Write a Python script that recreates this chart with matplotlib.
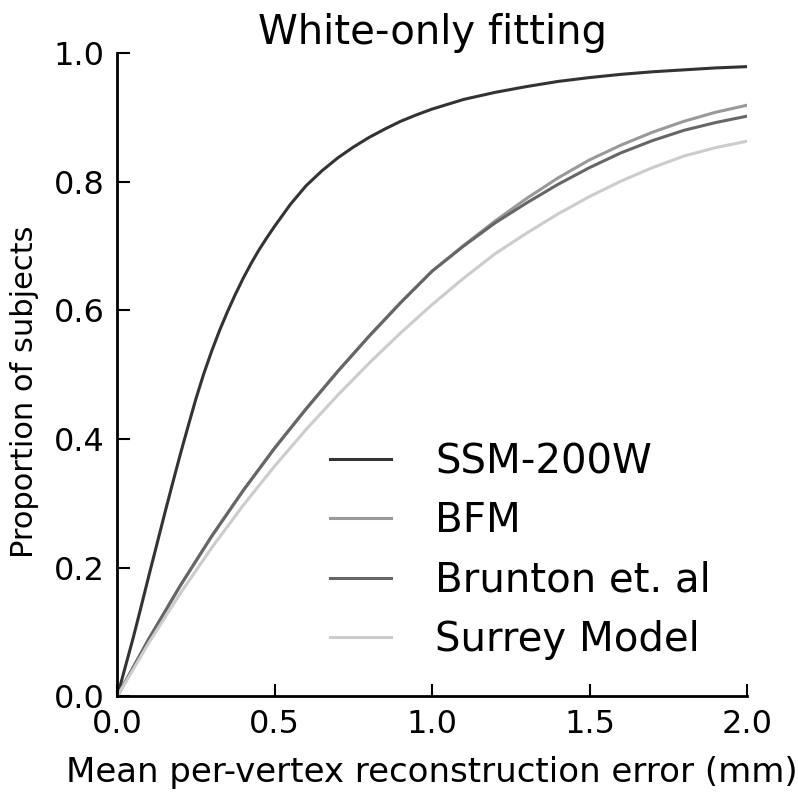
import numpy as np
import matplotlib
matplotlib.use('Agg')
import matplotlib.pyplot as plt

# Values (cumulative error plot).
# SSM-200W rises steeply, so it is read at a finer step.
err_ssm = [0.0, 0.025, 0.05, 0.075, 0.1, 0.125, 0.15, 0.175, 0.2, 0.225, 0.25,
           0.275, 0.3, 0.325, 0.35, 0.375, 0.4, 0.425, 0.45, 0.475, 0.5,
           0.55, 0.6, 0.65, 0.7, 0.75, 0.8, 0.85, 0.9, 0.95, 1.0,
           1.1, 1.2, 1.3, 1.4, 1.5, 1.6, 1.7, 1.8, 1.9, 2.0]
ssm_200w = [0.0, 0.045, 0.09, 0.138, 0.187, 0.235, 0.283, 0.33, 0.376, 0.42, 0.463,
            0.502, 0.537, 0.569, 0.598, 0.625, 0.65, 0.673, 0.694, 0.713, 0.731,
            0.765, 0.794, 0.817, 0.837, 0.854, 0.869, 0.882, 0.894, 0.904, 0.913,
            0.928, 0.939, 0.948, 0.956, 0.962, 0.967, 0.971, 0.974, 0.977, 0.979]

err_mm = [0.0, 0.1, 0.2, 0.3, 0.4, 0.5, 0.6, 0.7, 0.8, 0.9, 1.0,
          1.1, 1.2, 1.3, 1.4, 1.5, 1.6, 1.7, 1.8, 1.9, 2.0]
bfm = [0.0, 0.089, 0.172, 0.249, 0.320, 0.386, 0.447, 0.505, 0.560, 0.612, 0.661,
       0.701, 0.739, 0.774, 0.806, 0.834, 0.857, 0.877, 0.894, 0.908, 0.919]
brunton = [0.0, 0.089, 0.172, 0.249, 0.320, 0.386, 0.447, 0.505, 0.560, 0.612, 0.661,
           0.700, 0.736, 0.767, 0.796, 0.822, 0.845, 0.864, 0.880, 0.892, 0.902]
surrey = [0.0, 0.083, 0.160, 0.231, 0.297, 0.358, 0.415, 0.468, 0.518, 0.565, 0.609,
          0.650, 0.688, 0.720, 0.750, 0.777, 0.801, 0.822, 0.840, 0.853, 0.863]

series = [('SSM-200W', err_ssm, ssm_200w, '#333333'),
          ('BFM', err_mm, bfm, '#999999'),
          ('Brunton et. al', err_mm, brunton, '#666666'),
          ('Surrey Model', err_mm, surrey, '#cccccc')]

fig = plt.figure(figsize=(7.98, 7.93), dpi=100)
ax = fig.add_axes([0.147, 0.122, 0.789, 0.811])

for name, xs, vals, col in series:
    ax.plot(xs, vals, color=col, lw=2.2, label=name)

ax.set_xlim(0, 2.0)
ax.set_ylim(0, 1.0)
ax.set_xticks([0.0, 0.5, 1.0, 1.5, 2.0])
ax.set_yticks([0.0, 0.2, 0.4, 0.6, 0.8, 1.0])
ax.xaxis.set_major_formatter(matplotlib.ticker.FormatStrFormatter('%.1f'))
ax.yaxis.set_major_formatter(matplotlib.ticker.FormatStrFormatter('%.1f'))

# Only left/bottom spines, ticks pointing inwards
ax.spines['top'].set_visible(False)
ax.spines['right'].set_visible(False)
ax.spines['left'].set_linewidth(2)
ax.spines['bottom'].set_linewidth(2)
ax.tick_params(direction='in', length=9, width=1.5, top=False, right=False,
               labelsize=23, pad=9)

ax.set_title('White-only fitting', fontsize=29, pad=6)
ax.set_xlabel('Mean per-vertex reconstruction error (mm)', fontsize=24.5, labelpad=12)
ax.set_ylabel('Proportion of subjects', fontsize=22)
ax.yaxis.set_label_coords(-0.125, 0.473)

ax.legend(loc='lower right', frameon=False, fontsize=29, handlelength=1.5,
          handletextpad=1.1, labelspacing=0.48, borderaxespad=0.5)

fig.savefig('out.png', dpi=100)
